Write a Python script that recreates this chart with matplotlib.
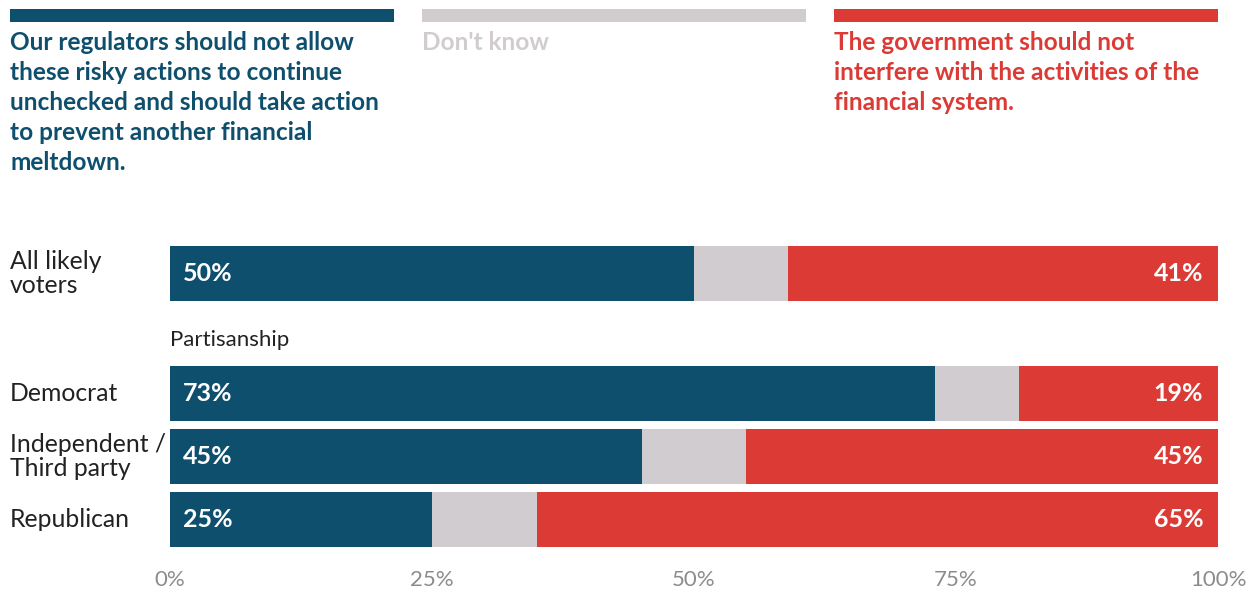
import matplotlib.pyplot as plt
from matplotlib.patches import Rectangle

plt.rcParams['font.family'] = ['Lato', 'DejaVu Sans']

# survey results, percent of respondents
groups = ['All likely\nvoters', 'Democrat', 'Independent /\nThird party', 'Republican']
regulate = [50, 73, 45, 25]
dont_know = [9, 8, 10, 10]
no_interfere = [41, 19, 45, 65]

headers = [
    'Our regulators should not allow\nthese risky actions to continue\n'
    'unchecked and should take action\nto prevent another financial\nmeltdown.',
    "Don't know",
    'The government should not\ninterfere with the activities of the\nfinancial system.',
]
ticks = [0, 25, 50, 75, 100]

colors = ['#0e4f6d', '#d1ccd0', '#db3a35']
W, H = 1255, 592

fig = plt.figure(figsize=(W / 100, H / 100), dpi=100)

# header bars + statement text above the chart
head_x = [10, 422, 834]
for x0, txt, c in zip(head_x, headers, colors):
    fig.add_artist(Rectangle((x0 / W, 1 - 22 / H), 384 / W, 13 / H,
                             transform=fig.transFigure, color=c, lw=0))
    fig.text(x0 / W, 1 - 31 / H, txt, color=c, fontsize=17.6, fontweight='bold',
             va='top', ha='left', linespacing=1.37)

# bar rows, "Partisanship" gap after the first row
rows = [0, 1.905, 2.905, 3.905]
ax = fig.add_axes([170 / W, (H - 560) / H, 1048 / W, (560 - 236) / H])

left = [0] * len(groups)
for vals, c in zip([regulate, dont_know, no_interfere], colors):
    ax.barh(rows, vals, left=left, height=0.873, color=c, lw=0)
    left = [l + v for l, v in zip(left, vals)]

for y, a, b in zip(rows, regulate, no_interfere):
    ax.text(1.2, y, f'{a}%', color='white', fontsize=18, fontweight='bold',
            va='center', ha='left')
    ax.text(98.6, y, f'{b}%', color='white', fontsize=18, fontweight='bold',
            va='center', ha='right')

for y, g in zip(rows, groups):
    ax.text(-15.3, y, g, fontsize=17.8, color='#222222', va='center', ha='left',
            linespacing=1.1)

ax.text(0, (rows[0] + rows[1]) / 2 + 0.11, 'Partisanship', fontsize=16,
        color='#222222', va='center', ha='left')

ax.set_xlim(0, 100)
ax.set_ylim(4.548, -0.595)
ax.set_xticks(ticks, labels=[f'{t}%' for t in ticks])
ax.tick_params(axis='x', length=0, pad=7, labelsize=16, labelcolor='#8c8c8c')
ax.set_yticks([])
for s in ax.spines.values():
    s.set_visible(False)

fig.savefig('out.png', dpi=100)
